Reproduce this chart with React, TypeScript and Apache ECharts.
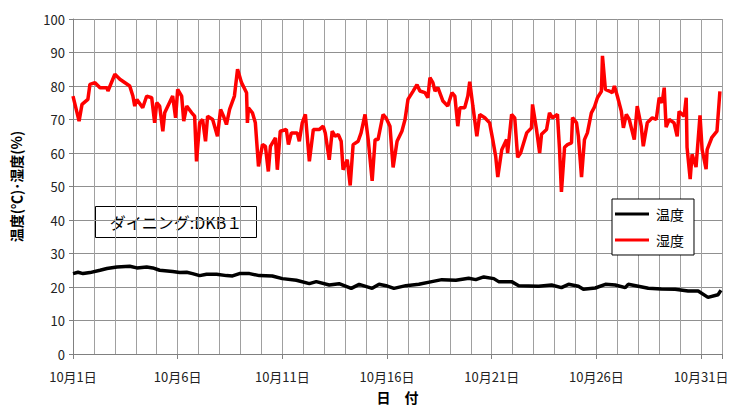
import React, { useEffect, useRef } from "react";
import * as echarts from "echarts";

// x values are days elapsed since 10月1日 00:00
const humidityDays = [
  0, 0.29, 0.43, 0.71, 0.81, 1.05, 1.29, 1.62, 1.67, 2.0, 2.24, 2.71, 2.86, 2.95, 3.05, 3.33, 3.52, 3.76, 3.9, 4.0,
  4.14, 4.29, 4.38, 4.76, 4.9, 5.0, 5.19, 5.29, 5.43, 5.67, 5.81, 5.9, 6.05, 6.19, 6.33, 6.43, 6.67, 6.9, 7.05, 7.19,
  7.33, 7.48, 7.71, 7.86, 8.05, 8.29, 8.33, 8.38, 8.57, 8.71, 8.86, 9.05, 9.19, 9.33, 9.43, 9.67, 9.76, 9.9, 10.19, 10.29,
  10.43, 10.71, 10.81, 10.95, 11.1, 11.29, 11.48, 11.76, 11.95, 12.05, 12.24, 12.38, 12.52, 12.67, 12.81, 12.9, 13.1, 13.24, 13.38, 13.62,
  13.76, 13.95, 14.1, 14.29, 14.43, 14.57, 14.81, 14.95, 15.14, 15.29, 15.48, 15.71, 15.86, 16.0, 16.24, 16.43, 16.57, 16.81, 16.95, 17.05,
  17.19, 17.29, 17.43, 17.67, 17.9, 18.1, 18.24, 18.38, 18.48, 18.71, 18.86, 18.95, 19.1, 19.29, 19.43, 19.67, 19.9, 20.05, 20.19, 20.29,
  20.48, 20.71, 20.76, 20.95, 21.1, 21.24, 21.38, 21.67, 21.9, 21.95, 22.14, 22.29, 22.38, 22.62, 22.76, 22.9, 23.14, 23.24, 23.33, 23.48,
  23.62, 23.81, 23.86, 24.05, 24.14, 24.29, 24.43, 24.57, 24.76, 24.9, 25.05, 25.24, 25.29, 25.43, 25.62, 25.76, 25.86, 26.0, 26.19, 26.29,
  26.43, 26.57, 26.81, 26.95, 27.14, 27.24, 27.43, 27.67, 27.86, 28.0, 28.14, 28.24, 28.33, 28.48, 28.71, 28.86, 28.95, 29.19, 29.29, 29.33,
  29.48, 29.57, 29.76, 29.95, 30.05, 30.24, 30.29, 30.52, 30.76, 30.9,
];
const humidityValues = [
  77, 69.5, 74.5, 76, 80.5, 81, 79.5, 79.5, 78.5, 83.5, 82, 80, 77, 74, 76, 73.5, 77, 76.5, 69, 75,
  74, 66.5, 72, 77, 70.5, 79, 77, 69.5, 74, 72, 71, 57.5, 69, 70, 63.5, 71, 70, 65, 73, 71,
  68.5, 73, 77, 85, 81, 78, 69, 73.5, 72, 69, 56, 62.5, 62, 54.5, 62, 64.5, 55, 66.5, 67, 62.5,
  66, 66, 63.5, 69, 71.5, 57.5, 67, 67, 68, 66, 58, 66.5, 65, 65.5, 63.5, 55, 58, 50.3, 62.5, 63.5,
  66, 71.5, 64, 51.7, 64, 64, 71.5, 70.5, 68, 55.7, 63.5, 66.5, 70, 76, 78.4, 80.4, 78.5, 78, 76.5, 82.5,
  81, 78.5, 79.5, 75.5, 74, 78, 77, 68, 73.5, 73.5, 77, 81.3, 74, 65, 71.5, 70.5, 69, 64, 59, 52.8,
  61, 64, 60, 71.5, 70.5, 58.7, 60, 66, 67.5, 74.5, 67, 60, 65.6, 67, 72, 70.5, 71.5, 61, 48.4, 61.7,
  62.5, 63, 70.6, 69, 65, 52.8, 64, 66, 72, 73.6, 76.5, 78.4, 89, 79, 78.5, 78, 80, 77, 72.5, 67.5,
  71.5, 70, 64, 74, 68, 62, 69, 70.5, 70, 76.5, 75, 79.5, 67.7, 70, 69, 65, 72.4, 71, 76.5, 61.7,
  52.2, 59.6, 55.8, 71.2, 61, 55.2, 61, 64.7, 66.5, 78.4,
];

const temperatureDays = [
  0, 0.24, 0.48, 0.81, 1.29, 1.62, 2.1, 2.71, 3.05, 3.52, 3.81, 4.14, 4.76, 5.1, 5.43, 5.71, 6.05, 6.38, 6.86, 7.33,
  7.62, 7.95, 8.29, 8.43, 8.9, 9.52, 10.0, 10.67, 11.29, 11.62, 12.24, 12.71, 13.29, 13.67, 14.29, 14.62, 14.95, 15.33, 15.9, 16.52,
  17.14, 17.62, 18.29, 18.9, 19.24, 19.62, 20.1, 20.33, 20.95, 21.29, 22.24, 22.86, 23.33, 23.67, 24.14, 24.38, 24.95, 25.43, 25.9, 26.38,
  26.52, 27.0, 27.48, 28.1, 28.76, 29.38, 29.86, 30.33, 30.81, 30.95,
];
const temperatureValues = [
  24, 24.4, 24, 24.3, 25, 25.5, 26, 26.2, 25.7, 26, 25.7, 25, 24.6, 24.3, 24.4, 24, 23.4, 23.8, 23.8, 23.4,
  23.3, 24, 24, 24, 23.4, 23.3, 22.5, 22, 21, 21.6, 20.6, 21, 19.6, 20.8, 19.6, 20.8, 20.4, 19.6, 20.4, 20.8,
  21.6, 22.2, 22, 22.6, 22.2, 23, 22.5, 21.6, 21.6, 20.4, 20.2, 20.6, 19.8, 20.8, 20.2, 19.3, 19.7, 20.8, 20.6, 19.8,
  20.8, 20.2, 19.6, 19.4, 19.3, 18.8, 18.8, 16.9, 17.7, 19,
];

const seriesNames = ["温度", "湿度"];
const yAxisTitle = "温度(℃)･湿度(%)";
const xAxisTitle = "日　付";
const roomLabel = "ダイニング:DKB１";

const FONT = "'Noto Sans CJK JP', 'Noto Sans', sans-serif";

export default function App() {
  const ref = useRef<HTMLDivElement>(null);

  useEffect(() => {
    document.body.style.margin = "0";
    const chart = echarts.init(ref.current!, null, { renderer: "svg" });
    const temp = temperatureDays.map((d, i) => [d, temperatureValues[i]]);
    const hum = humidityDays.map((d, i) => [d, humidityValues[i]]);

    chart.setOption({
      animation: false,
      backgroundColor: "#fff",
      textStyle: { fontFamily: FONT },
      grid: { left: 73, right: 12, top: 19, bottom: 53 },
      xAxis: [
        {
          type: "value",
          min: 0,
          max: 31,
          interval: 1,
          axisLine: { show: true, lineStyle: { color: "#808080", width: 1 } },
          axisTick: { show: false },
          axisLabel: { show: false },
          splitLine: { show: true, lineStyle: { color: "#a0a0a0", width: 1 } },
        },
        {
          type: "value",
          min: 0,
          max: 31,
          interval: 5,
          position: "bottom",
          name: xAxisTitle,
          nameLocation: "middle",
          nameGap: 36,
          nameTextStyle: { fontSize: 14, fontWeight: "bold", color: "#000", fontFamily: FONT },
          axisLine: { show: false },
          axisTick: { show: true, length: 5, lineStyle: { color: "#808080" } },
          axisLabel: {
            color: "#222",
            fontSize: 13,
            margin: 16,
            fontFamily: FONT,
            formatter: (v: number) => (v % 5 === 0 && v <= 30 ? `10月${v + 1}日` : ""),
          },
          splitLine: { show: false },
        },
      ],
      yAxis: {
        type: "value",
        min: 0,
        max: 100,
        interval: 10,
        name: yAxisTitle,
        nameLocation: "middle",
        nameRotate: 90,
        nameGap: 50,
        nameTextStyle: { fontSize: 14, fontWeight: "bold", color: "#000", fontFamily: FONT },
        axisLine: { show: true, lineStyle: { color: "#808080" } },
        axisTick: { show: true, length: 4, lineStyle: { color: "#808080" } },
        axisLabel: { color: "#222", fontSize: 13, margin: 8, fontFamily: FONT },
        splitLine: { show: true, lineStyle: { color: "#909090", width: 1 } },
      },
      legend: {
        orient: "vertical",
        left: 612,
        top: 199,
        width: 88,
        padding: [8, 10, 8, 3],
        itemGap: 12,
        itemWidth: 34,
        itemHeight: 3,
        borderColor: "#000",
        borderWidth: 1,
        backgroundColor: "#fff",
        textStyle: { fontSize: 14, color: "#000", fontFamily: FONT, padding: [0, 0, 0, 2] },
        data: seriesNames.map((n) => ({ name: n, icon: "rect" })),
      },
      graphic: [
        {
          type: "group",
          left: 95,
          top: 206,
          children: [
            {
              type: "rect",
              shape: { x: 0, y: 0, width: 161, height: 31 },
              style: { fill: "#fff", stroke: "#000", lineWidth: 1 },
            },
            {
              type: "text",
              x: 80.5,
              y: 15.5,
              style: {
                text: roomLabel,
                fontSize: 16,
                fill: "#000",
                fontFamily: FONT,
                align: "center",
                verticalAlign: "middle",
              },
            },
          ],
        },
      ],
      series: [
        {
          name: seriesNames[0],
          type: "line",
          xAxisIndex: 0,
          data: temp,
          showSymbol: false,
          symbol: "none",
          lineStyle: { color: "#000", width: 3.5 },
          itemStyle: { color: "#000" },
          z: 3,
        },
        {
          name: seriesNames[1],
          type: "line",
          xAxisIndex: 0,
          data: hum,
          showSymbol: false,
          symbol: "none",
          lineStyle: { color: "#ff0000", width: 3.5 },
          itemStyle: { color: "#ff0000" },
          z: 2,
        },
      ],
    });
    return () => chart.dispose();
  }, []);

  return <div ref={ref} style={{ position: "absolute", left: 0, top: 0, width: 734, height: 409 }} />;
}
